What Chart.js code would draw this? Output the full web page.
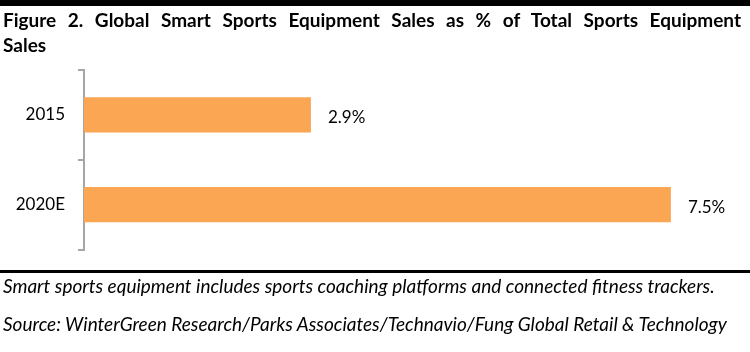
<!DOCTYPE html>
<html>
<head>
<meta charset="utf-8">
<script src="https://cdn.jsdelivr.net/npm/chart.js@4"></script>
<style>
    html, body { margin: 0; padding: 0; background: #fff; }
    #page { position: relative; width: 750px; height: 352px; overflow: hidden; font-family: Lato, sans-serif; color: #000; }
    #topRule { position: absolute; left: 0; top: 0; width: 750px; height: 5.5px; background: #000; }
    #bottomRule { position: absolute; left: 0; top: 269.5px; width: 750px; height: 3.5px; background: #000; }
    .title { position: absolute; left: 3px; width: 738px; font-weight: bold; font-size: 19px; line-height: 25px; white-space: nowrap; }
    #title1 { top: 7px; text-align: justify; text-align-last: justify; white-space: normal; }
    #title2 { top: 32px; }
    .note { position: absolute; left: 3px; font-style: italic; font-size: 19px; line-height: 25px; white-space: nowrap; }
    #note1 { top: 273px; }
    #note2 { top: 310.7px; }
    #chart { position: absolute; left: 0; top: 0; }
</style>
</head>
<body>
<div id="page">
    <canvas id="chart" width="750" height="352"></canvas>
    <div id="topRule"></div>
    <div class="title" id="title1">Figure 2. Global Smart Sports Equipment Sales as % of Total Sports Equipment</div>
    <div class="title" id="title2">Sales</div>
    <div id="bottomRule"></div>
    <div class="note" id="note1">Smart sports equipment includes sports coaching platforms and connected fitness trackers.</div>
    <div class="note" id="note2">Source: WinterGreen Research/Parks Associates/Technavio/Fung Global Retail &amp; Technology</div>
</div>
<script>
// Chart data
var categories = ['2015', '2020E'];
var shares = [2.9, 7.5];
var xMax = 8;

var barColor = '#FBA652';
var axisColor = '#A6A6A6';

// Draw "x.x%" to the right of each bar
var valueLabels = {
    id: 'valueLabels',
    afterDatasetsDraw: function (chart) {
        var ctx = chart.ctx;
        var meta = chart.getDatasetMeta(0);
        ctx.save();
        ctx.font = '17px Lato';
        ctx.fillStyle = '#000';
        ctx.textAlign = 'left';
        ctx.textBaseline = 'alphabetic';
        meta.data.forEach(function (bar, i) {
            ctx.fillText(shares[i].toFixed(1) + '%', bar.x + 17, bar.y + 8.5);
        });
        ctx.restore();
    }
};

new Chart(document.getElementById('chart').getContext('2d'), {
    type: 'bar',
    data: {
        labels: categories,
        datasets: [{
            data: shares,
            backgroundColor: barColor,
            borderWidth: 0,
            categoryPercentage: 1,
            barPercentage: 0.39
        }]
    },
    options: {
        indexAxis: 'y',
        responsive: false,
        animation: false,
        layout: {
            padding: { left: 0, right: 40, top: 70, bottom: 102.5 }
        },
        plugins: {
            legend: { display: false },
            tooltip: { enabled: false }
        },
        scales: {
            x: {
                display: false,
                min: 0,
                max: xMax
            },
            y: {
                afterFit: function (scale) { scale.width = 84; },
                grid: {
                    drawOnChartArea: false,
                    drawTicks: true,
                    tickLength: 6,
                    color: axisColor,
                    lineWidth: 2
                },
                border: { display: true, color: axisColor, width: 2 },
                ticks: {
                    color: '#000',
                    padding: 13,
                    font: { family: 'Lato', size: 17 }
                }
            }
        }
    },
    plugins: [valueLabels]
});
</script>
</body>
</html>
